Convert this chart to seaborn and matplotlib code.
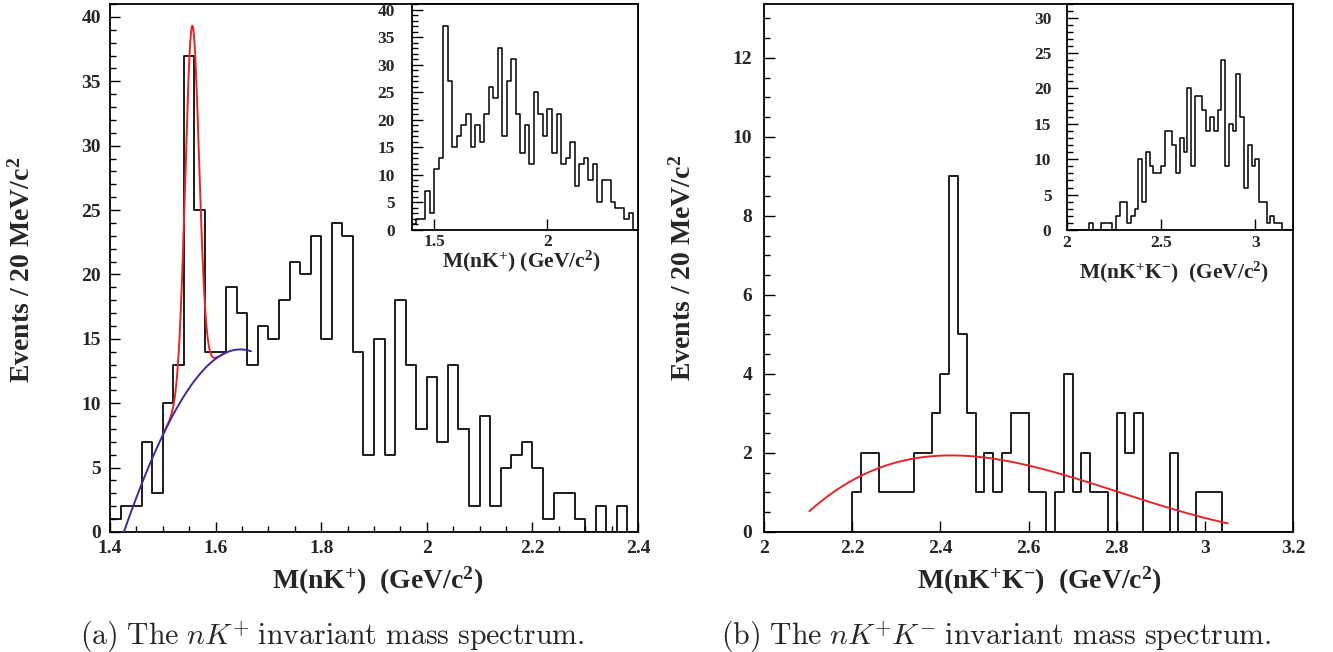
import numpy as np
import pandas as pd
import matplotlib
matplotlib.use("Agg")
import matplotlib.pyplot as plt
import seaborn as sns
from matplotlib.ticker import MultipleLocator, FuncFormatter, NullLocator

# ---------------- data ----------------
nk_range = [1.4, 2.4]
nk_bin_width = 0.02
nk_counts = [1, 2, 2, 7, 3, 10, 13, 37, 25, 14,
             14, 19, 17, 13, 16, 15, 18, 21, 20, 23,
             15, 24, 23, 14, 6, 15, 6, 18, 13, 8,
             12, 7, 13, 8, 2, 9, 2, 5, 6, 7,
             5, 1, 3, 3, 1, 0, 2, 0, 2, 0]
nk_inset_counts = [1, 2, 2, 7, 3, 11, 13, 37, 27, 15,
                   17, 19, 21, 15, 19, 16, 21, 26, 24, 33,
                   17, 27, 31, 21, 14, 19, 12, 25, 21, 17,
                   22, 14, 21, 12, 13, 16, 8, 12, 13, 9,
                   12, 5, 9, 9, 5, 4, 4, 2, 3, 0]

nkk_range = [2.0, 3.2]
nkk_bin_width = 0.02
nkk_counts = [0, 0, 0, 0, 0, 0, 0, 0, 0, 0,
              1, 2, 2, 1, 1, 1, 1, 2, 2, 3,
              4, 9, 5, 3, 1, 2, 1, 2, 3, 3,
              1, 1, 0, 1, 4, 1, 2, 1, 1, 0,
              3, 2, 3, 0, 0, 0, 2, 0, 0, 1,
              1, 1, 0, 0, 0, 0, 0, 0, 0, 0]
nkk_inset_counts = [0, 0, 0, 0, 0, 0, 1, 0, 0, 1,
                    1, 1, 0, 2, 4, 4, 1, 2, 3, 10,
                    4, 11, 9, 8, 8, 9, 14, 14, 12, 8,
                    13, 11, 20, 9, 19, 19, 17, 14, 16, 14,
                    17, 24, 9, 15, 14, 22, 16, 6, 12, 9,
                    10, 4, 4, 1, 2, 1, 1, 0, 0, 0]

# background fit curve (purple)
nk_bkg_mass = [1.425, 1.444, 1.476, 1.498, 1.518, 1.540, 1.571, 1.603, 1.635, 1.667]
nk_bkg_events = [0.0, 1.94, 5.05, 7.38, 9.07, 10.75, 12.44, 13.34, 13.99, 14.15]
# signal peak (red) parameters
nk_peak_mass = 1.5556
nk_peak_sigma = 0.013
nk_peak_height = 27.8

# nK+K- fit curve (red)
nkk_fit_mass = [2.103, 2.20, 2.24, 2.294, 2.37, 2.445, 2.521, 2.612, 2.688, 2.764, 2.839, 2.915, 2.99, 3.052]
nkk_fit_events = [0.52, 1.31, 1.52, 1.77, 1.90, 1.92, 1.83, 1.65, 1.44, 1.18, 0.89, 0.59, 0.38, 0.23]

# ---------------- style ----------------
sns.set_theme(style="white")
plt.rcParams['font.family'] = ['Liberation Serif', 'DejaVu Serif']
plt.rcParams['font.weight'] = 'bold'
plt.rcParams['mathtext.default'] = 'regular'
plt.rcParams['axes.edgecolor'] = 'black'
plt.rcParams['axes.linewidth'] = 1.3

W, H = 1333, 652
fig = plt.figure(figsize=(W / 100, H / 100), dpi=100)
fig.patch.set_facecolor('white')


def fx(px):
    return px / W


def fy(py):
    return 1 - py / H


def rect(x0, y0, x1, y1):
    return [fx(x0), fy(y1), fx(x1) - fx(x0), fy(y0) - fy(y1)]


RED = '#e3262b'
PURPLE = '#3f2a9c'
fmt = FuncFormatter(lambda v, p: f"{v:g}")


def draw_hist(ax, lo, width, counts, lw):
    edges = [lo + width * i for i in range(len(counts) + 1)]
    centers = [lo + width * (i + 0.5) for i in range(len(counts))]
    df = pd.DataFrame({"mass": centers, "events": counts})
    sns.histplot(data=df, x="mass", weights="events", bins=edges,
                 element="step", fill=False, color="black",
                 linewidth=lw, ax=ax)
    ax.set_xlabel("")
    ax.set_ylabel("")


def style_axes(ax, xmaj, xmin, ymaj, ymin, fs, ypad, xpad, majlen, minlen):
    ax.xaxis.set_major_locator(MultipleLocator(xmaj))
    ax.xaxis.set_minor_locator(MultipleLocator(xmin) if xmin else NullLocator())
    ax.yaxis.set_major_locator(MultipleLocator(ymaj))
    ax.yaxis.set_minor_locator(MultipleLocator(ymin) if ymin else NullLocator())
    ax.xaxis.set_major_formatter(fmt)
    ax.yaxis.set_major_formatter(fmt)
    ax.tick_params(which='both', direction='in', top=False, right=False,
                   bottom=True, left=True, color='black', width=1.0)
    ax.tick_params(which='major', length=majlen)
    ax.tick_params(which='minor', length=minlen)
    ax.tick_params(axis='x', which='major', pad=xpad, labelsize=fs)
    ax.tick_params(axis='y', which='major', pad=ypad, labelsize=fs)
    for lab in ax.get_xticklabels() + ax.get_yticklabels():
        lab.set_fontweight('bold')
    for s in ax.spines.values():
        s.set_visible(True)
        s.set_color('black')
        s.set_linewidth(1.3)
    ax.grid(False)


# ---------------- left main: nK+ ----------------
axL = fig.add_axes(rect(110, 4, 638, 532))
draw_hist(axL, nk_range[0], nk_bin_width, nk_counts, 1.25)
coef = np.polyfit(nk_bkg_mass, nk_bkg_events, 3)
mr = np.linspace(1.50, 1.62, 400)
sig = np.polyval(coef, mr) + nk_peak_height * np.exp(-0.5 * ((mr - nk_peak_mass) / nk_peak_sigma) ** 2)
axL.plot(mr, sig, color=RED, lw=1.4, zorder=3)
mb = np.linspace(nk_bkg_mass[0], nk_bkg_mass[-1], 200)
axL.plot(mb, np.polyval(coef, mb), color=PURPLE, lw=1.4, zorder=4)
axL.set_xlim(*nk_range)
axL.set_ylim(0, 41)
style_axes(axL, 0.2, 0.05, 5, 1, 14, 6.5, 5.5, 7.5, 4)

# left inset
axLi = fig.add_axes(rect(411.7, 3.5, 638, 229.5))
axLi.set_facecolor('white')
draw_hist(axLi, nk_range[0], nk_bin_width, nk_inset_counts, 1.1)
axLi.set_xlim(*nk_range)
axLi.set_ylim(0, 41.1)
style_axes(axLi, 0.5, None, 5, 1, 12.5, 12, 3.5, 8, 4.3)

# ---------------- right main: nK+K- ----------------
axR = fig.add_axes(rect(764, 4, 1293, 532))
draw_hist(axR, nkk_range[0], nkk_bin_width, nkk_counts, 1.25)
cf = np.polyfit(nkk_fit_mass, nkk_fit_events, 4)
mk = np.linspace(nkk_fit_mass[0], nkk_fit_mass[-1], 300)
axR.plot(mk, np.polyval(cf, mk), color=RED, lw=1.4, zorder=3)
axR.set_xlim(*nkk_range)
axR.set_ylim(0, 13.36)
style_axes(axR, 0.2, None, 2, 0.5, 14, 8.5, 5.5, 8, 4)

# right inset
axRi = fig.add_axes(rect(1066.7, 3.5, 1293, 230))
axRi.set_facecolor('white')
draw_hist(axRi, nkk_range[0], nkk_bin_width, nkk_inset_counts, 1.1)
axRi.set_xlim(*nkk_range)
axRi.set_ylim(0, 32)
style_axes(axRi, 0.5, None, 5, 1, 12.5, 11, 3.5, 8, 4.3)

# ---------------- axis titles ----------------
fig.text(fx(22), fy(270), "Events / 20 MeV/c$^{2}$", rotation=90,
         ha='center', va='center', fontsize=20, fontweight='bold')
fig.text(fx(683), fy(268), "Events / 20 MeV/c$^{2}$", rotation=90,
         ha='center', va='center', fontsize=20, fontweight='bold')
fig.text(fx(378), fy(581), "M(nK$^{+}$)  (GeV/c$^{2}$)",
         ha='center', va='center', fontsize=20, fontweight='bold')
fig.text(fx(1039), fy(581), "M(nK$^{+}$K$^{-}$)  (GeV/c$^{2}$)",
         ha='center', va='center', fontsize=20, fontweight='bold')
fig.text(fx(521), fy(261), "M(nK$^{+}$) (GeV/c$^{2}$)",
         ha='center', va='center', fontsize=15.5, fontweight='bold')
fig.text(fx(1174), fy(272), "M(nK$^{+}$K$^{-}$)  (GeV/c$^{2}$)",
         ha='center', va='center', fontsize=15.5, fontweight='bold')

# ---------------- captions ----------------
fig.text(fx(80), fy(636),
         r"$\mathrm{(a)\ The\ }\mathit{nK}^{\mathrm{+}}\mathrm{\ invariant\ mass\ spectrum.}$",
         ha='left', va='center', fontsize=21.5, math_fontfamily='cm')
fig.text(fx(721), fy(636),
         r"$\mathrm{(b)\ The\ }\mathit{nK}^{\mathrm{+}}\mathit{K}^{\mathrm{-}}\mathrm{\ invariant\ mass\ spectrum.}$",
         ha='left', va='center', fontsize=21.5, math_fontfamily='cm')

fig.savefig("out.png", dpi=100, facecolor='white')
